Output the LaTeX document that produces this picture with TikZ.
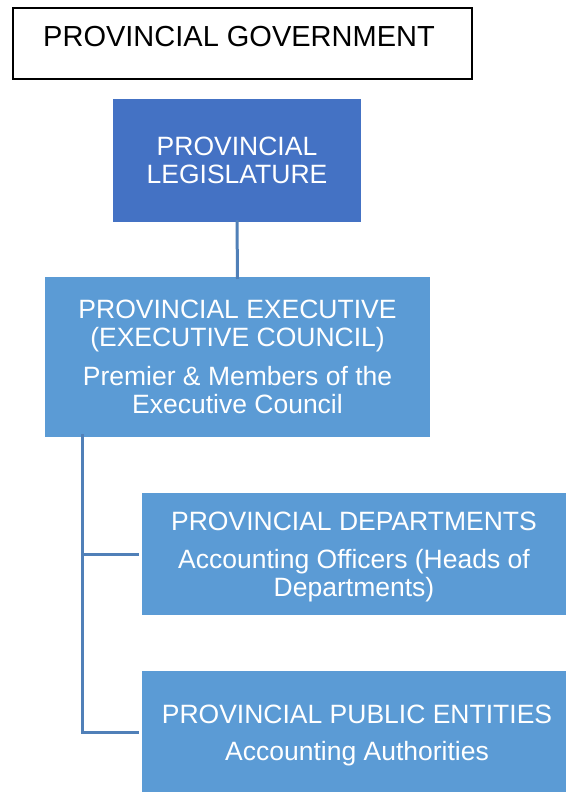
\documentclass[tikz,border=0pt]{standalone}
\usepackage{fontspec}
\setmainfont{Liberation Sans}
\definecolor{legblue}{HTML}{4472C4}
\definecolor{boxblue}{HTML}{5B9BD5}
\definecolor{linkblue}{HTML}{5080B8}
\begin{document}
\begin{tikzpicture}[x=1pt,y=-1pt,
  govbox/.style={draw=black,line width=1.5pt,fill=white,inner sep=0pt},
  bluebox/.style={fill=boxblue,draw=none,inner sep=0pt},
  legbox/.style={fill=legblue,draw=none,inner sep=0pt},
  boxtext/.style={text=white,align=center,anchor=base,inner sep=0pt,font=\fontsize{26.5}{28}\selectfont},
  titletext/.style={text=black,anchor=base,inner sep=0pt,font=\fontsize{29}{34}\selectfont},
  link/.style={draw=linkblue,line width=3pt}]
\useasboundingbox (0,0) rectangle (565,792);
\fill[white] (0,0) rectangle (565,792);
% boxes
\node[govbox,minimum width=459pt,minimum height=71pt] (gov) at (242.5,43.5) {};
\node[legbox,minimum width=248pt,minimum height=123pt] (leg) at (237,160.5) {};
\node[bluebox,minimum width=385pt,minimum height=160pt] (exec) at (237.5,357) {};
\node[bluebox,minimum width=424pt,minimum height=122pt] (dept) at (354,554) {};
\node[bluebox,minimum width=430pt,minimum height=122pt] (ent) at (357,732) {};
% texts (anchored at the baseline of the last line)
\node[titletext] (govt) at (239,47) {PROVINCIAL GOVERNMENT};
\node[boxtext] (legt) at (237,183) {PROVINCIAL\\LEGISLATURE};
\node[boxtext] (exect) at (237.5,413) {PROVINCIAL EXECUTIVE\\(EXECUTIVE COUNCIL)\\[11pt]Premier \& Members of the\\Executive Council};
\node[boxtext] (deptt) at (354,596) {PROVINCIAL DEPARTMENTS\\[10pt]Accounting Officers (Heads of\\Departments)};
\node[boxtext] (entt) at (357,760) {PROVINCIAL PUBLIC ENTITIES\\[9pt]Accounting Authorities};
% connectors
\coordinate (spine) at (82,0);
\draw[link] ([yshift=2pt]leg.south) -- ([yshift=-2pt]exec.north);
\draw[link] ([yshift=3pt]exec.south -| spine) |- ([xshift=-3pt]dept.west);
\draw[link] ([yshift=3pt]exec.south -| spine) |- ([xshift=-3pt]ent.west);
\end{tikzpicture}
\end{document}
